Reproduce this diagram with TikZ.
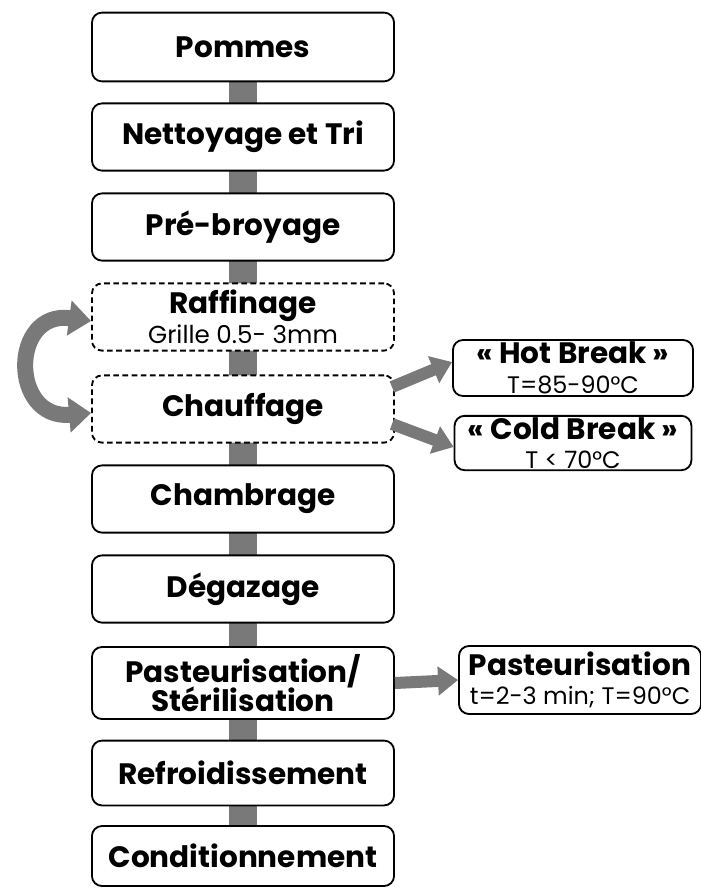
\documentclass[tikz,border=0pt]{standalone}
\usepackage{fontspec}
\setmainfont{Poppins}
\usetikzlibrary{arrows.meta}

\begin{document}
\begin{tikzpicture}[
	x=0.025cm, y=-0.025cm,
	stage/.style={
		rectangle,
		draw=black,
		line width=1.3pt,
		align=center,
		rounded corners=0.25cm,
		fill=white,
		font=\fontsize{21}{24}\selectfont\bfseries,
		minimum height=1.68cm,
		minimum width=7.55cm
	},
	stagedashed/.style={
		stage,
		dash pattern=on 4pt off 2.5pt
	},
	note/.style={
		rectangle,
		draw=black,
		line width=1.3pt,
		align=center,
		rounded corners=0.25cm,
		fill=white,
		inner sep=1pt,
		font=\fontsize{21}{21}\selectfont\bfseries,
		minimum height=1.4cm,
		minimum width=6cm
	},
	link/.style={
		draw=gray!95!black,
		line width=0.7cm
	},
	bigarrow/.style={
		draw=gray!95!black,
		line width=0.3cm,
		-{Triangle[length=0.5cm, width=0.7cm]}
	},
]

\useasboundingbox (0,0) rectangle (700,888);

% links behind the boxes
\coordinate (top) at (243,47);
\coordinate (bottom) at (243,856);
\draw[link] (top) -- (bottom);

\node[stage, minimum height=1.72cm] (pommes) at (243, 47) {Pommes};
\node[stage] (nettoyage) at (243, 137) {Nettoyage et Tri};
\node[stage] (prebroyage) at (243, 227) {Pré-broyage};
\node[stagedashed, inner sep=1pt] (raffinage) at (243, 317) {Raffinage \\[-3pt] {\mdseries\fontsize{17.5}{19}\selectfont Grille 0.5- 3mm}};
\node[stagedashed] (chauffage) at (243, 409) {Chauffage};
\node[stage] (chambrage) at (243, 499) {Chambrage};
\node[stage] (degazage) at (243, 589) {Dégazage};
\node[stage, minimum height=1.8cm, inner sep=1pt] (pasteur) at (243, 683) {Pasteurisation/ \\[-3pt] Stérilisation};
\node[stage, minimum height=1.62cm] (refroid) at (243, 773) {Refroidissement};
\node[stage, minimum height=1.5cm] (condition) at (243, 856) {Conditionnement};

% side notes
\node[note] (hotbreak) at (573, 368) {« Hot Break » \\ {\mdseries\fontsize{17}{19}\selectfont T=85-90°C}};
\node[note, minimum width=5.92cm, minimum height=1.35cm] (coldbreak) at (573, 443) {« Cold Break » \\ {\mdseries\fontsize{17}{19}\selectfont T < 70°C}};
\node[note, minimum width=6.05cm, minimum height=1.7cm] (pasteurnote) at (580, 680) {Pasteurisation \\ {\mdseries\fontsize{17}{19}\selectfont t=2-3 min; T=90°C}};

% arrows to the side notes
\coordinate (hotstart) at (392, 387);
\coordinate (coldstart) at (392, 424);
\draw[bigarrow] (hotstart) -- ([yshift=0.15cm]hotbreak.west);
\draw[bigarrow] (coldstart) -- ([yshift=-0.1cm]coldbreak.west);
\draw[bigarrow] (pasteur.east) -- (pasteurnote.west);

% loop between Raffinage and Chauffage
\draw[draw=gray!95!black, line width=0.4cm, {Triangle[length=0.55cm, width=0.85cm]}-{Triangle[length=0.55cm, width=0.85cm]}]
	([yshift=-0.1cm]raffinage.west) .. controls (10,310) and (10,420) .. ([yshift=-0.1cm]chauffage.west);

\end{tikzpicture}
\end{document}
